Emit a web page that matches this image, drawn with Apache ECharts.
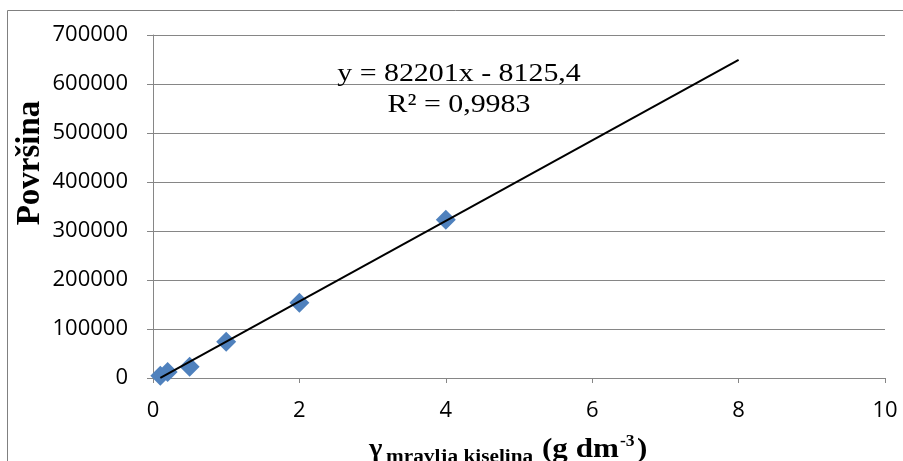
<!DOCTYPE html>
<html>
<head>
<meta charset="utf-8">
<script src="https://cdn.jsdelivr.net/npm/echarts@6/dist/echarts.min.js"></script>
<style>html,body{margin:0;padding:0;background:#fff}#c{width:903px;height:461px}</style>
</head>
<body>
<div id="c"></div>
<script>
// Data
const concentrations = [0.1, 0.2, 0.5, 1, 2, 4];
const areas = [4500, 12000, 23000, 74000, 153500, 323000];
// Linear trendline as printed on the chart
const trendSlope = 82201;
const trendIntercept = -8125.4;
const trendRange = [0.1, 8];
const equationText = 'y = 82201x - 8125,4';
const r2Text = 'R² = 0,9983';
// Axes
const xTicks = [0, 2, 4, 6, 8, 10];
const yTicks = [0, 100000, 200000, 300000, 400000, 500000, 600000, 700000];
const yTitle = 'Površina';

const trendData = trendRange.map(x => [x, trendSlope * x + trendIntercept]);
const gray = '#868686';
const labelFont = 'Open Sans';
const serif = '"Liberation Serif","Times New Roman",serif';

const chart = echarts.init(document.getElementById('c'), null, {renderer: 'canvas'});
chart.setOption({
  animation: false,
  backgroundColor: '#fff',
  grid: {left: 153, right: 18, top: 35, bottom: 83, containLabel: false},
  xAxis: {
    type: 'value',
    min: xTicks[0], max: xTicks[xTicks.length - 1], interval: xTicks[1] - xTicks[0],
    splitLine: {show: false},
    axisLine: {onZero: false, lineStyle: {color: gray, width: 1}},
    axisTick: {show: true, length: 5, lineStyle: {color: gray}},
    axisLabel: {margin: 22, fontFamily: labelFont, fontSize: 22, color: '#000',
                formatter: v => String(v)}
  },
  yAxis: {
    type: 'value',
    min: yTicks[0], max: yTicks[yTicks.length - 1], interval: yTicks[1] - yTicks[0],
    axisLine: {show: true, lineStyle: {color: gray, width: 1}},
    axisTick: {show: true, length: 6, lineStyle: {color: gray}},
    splitLine: {show: true, lineStyle: {color: gray, width: 1}},
    axisLabel: {margin: 25, fontFamily: labelFont, fontSize: 22, color: '#000',
                formatter: v => String(v)}
  },
  series: [
    {
      type: 'scatter',
      data: concentrations.map((x, i) => [x, areas[i]]),
      symbol: 'diamond',
      symbolSize: 20,
      itemStyle: {color: '#4F81BD', opacity: 1},
      z: 2
    },
    {
      type: 'line',
      data: trendData,
      showSymbol: false,
      symbol: 'none',
      lineStyle: {color: '#000', width: 2},
      z: 3
    }
  ],
  graphic: [
    {type: 'rect', silent: true, z: -10,
     shape: {x: 7.5, y: 10.5, width: 1000, height: 1000},
     style: {fill: 'none', stroke: '#808080', lineWidth: 1}},
    {type: 'text', x: 459, y: 74, scaleX: 1.15, z: 10,
     style: {text: equationText, align: 'center', verticalAlign: 'middle', font: '26px ' + serif, fill: '#000'}},
    {type: 'text', x: 459, y: 105, scaleX: 1.15, z: 10,
     style: {text: r2Text, align: 'center', verticalAlign: 'middle', font: '26px ' + serif, fill: '#000'}},
    {type: 'text', x: 30.5, y: 163, rotation: Math.PI / 2, z: 10,
     style: {text: yTitle, align: 'center', verticalAlign: 'middle', font: 'bold 33px ' + serif, fill: '#000'}},
    // x-axis title pieces
    {type: 'text', x: 369, y: 449, scaleX: 1.1, z: 10,
     style: {text: 'γ', align: 'left', verticalAlign: 'middle', font: 'bold 26px ' + serif, fill: '#000'}},
    {type: 'text', x: 386, y: 457, scaleX: 1.12, z: 10,
     style: {text: 'mravlja kiselina', align: 'left', verticalAlign: 'middle', font: 'bold 19px ' + serif, fill: '#000'}},
    {type: 'text', x: 542, y: 450, scaleX: 1.15, z: 10,
     style: {text: '(g dm', align: 'left', verticalAlign: 'middle', font: 'bold 27px ' + serif, fill: '#000'}},
    {type: 'text', x: 620, y: 442, scaleX: 1.1, z: 10,
     style: {text: '-3', align: 'left', verticalAlign: 'middle', font: 'bold 16px ' + serif, fill: '#000'}},
    {type: 'text', x: 637, y: 450, scaleX: 1.15, z: 10,
     style: {text: ')', align: 'left', verticalAlign: 'middle', font: 'bold 27px ' + serif, fill: '#000'}}
  ]
});
</script>
</body>
</html>
